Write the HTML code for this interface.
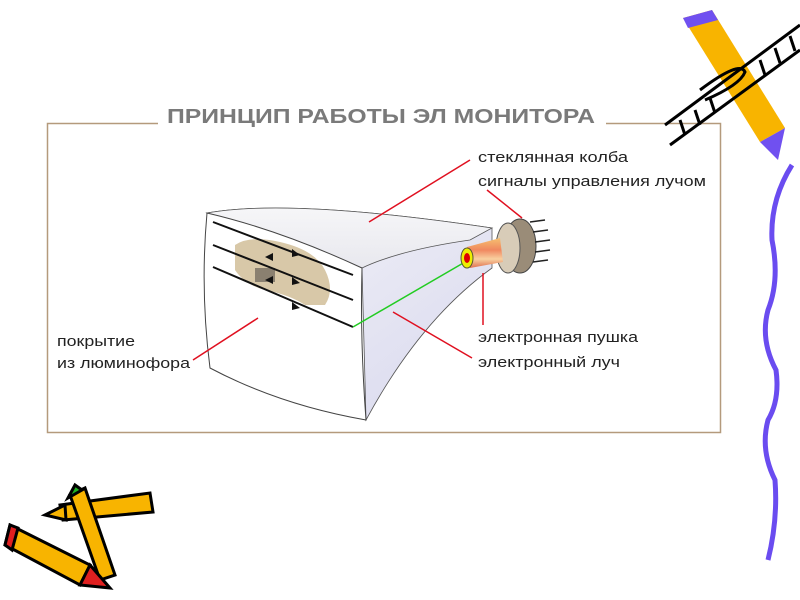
<!DOCTYPE html>
<html><head><meta charset="utf-8"><style>
body{margin:0;width:800px;height:600px;background:#fff;overflow:hidden}
svg{display:block}
text{font-family:"Liberation Sans",sans-serif}
</style></head><body>
<svg width="800" height="600" viewBox="0 0 800 600">
<defs>
<linearGradient id="bd" x1="0" y1="0" x2="1" y2="1"><stop offset="0" stop-color="#f4f4f8"/><stop offset="1" stop-color="#d8d8ee"/></linearGradient>
<linearGradient id="bt" x1="0" y1="0" x2="0" y2="1"><stop offset="0" stop-color="#f6f6f8"/><stop offset="1" stop-color="#e8e8ee"/></linearGradient>
<linearGradient id="gun" x1="0" y1="0" x2="0" y2="1"><stop offset="0" stop-color="#f6c070"/><stop offset=".4" stop-color="#f08860"/><stop offset=".7" stop-color="#f8d0a0"/><stop offset="1" stop-color="#e07050"/></linearGradient>
</defs>
<rect x="47.5" y="123.5" width="673" height="309" fill="none" stroke="#b49a7c" stroke-width="1.5"/>
<rect x="158" y="104" width="448" height="26" fill="#fff"/>
<text x="167" y="123" font-size="20" font-weight="bold" fill="#7a7a7a" textLength="428" lengthAdjust="spacingAndGlyphs">ПРИНЦИП РАБОТЫ ЭЛ МОНИТОРА</text>
<path d="M207,213 Q290,198 492,228 L492,268 Q420,320 366,420 L362,268 Z" fill="url(#bd)" stroke="#555" stroke-width="0.8"/>
<path d="M207,213 Q290,198 492,228 L470,240 Q400,250 362,268 Z" fill="url(#bt)" stroke="#555" stroke-width="0.8"/>
<path d="M207,213 Q280,230 362,268 Q360,340 366,420 Q280,405 210,368 Q200,290 207,213 Z" fill="#fff" stroke="#444" stroke-width="1"/>
<path d="M235,245 Q250,235 280,242 Q315,250 325,270 Q335,290 325,305 L305,305 Q290,295 265,290 Q245,285 235,270 Z" fill="#d8c8a8"/>
<rect x="255" y="268" width="20" height="14" fill="#8a8070"/>
<g stroke="#111" stroke-width="2">
<line x1="213" y1="222" x2="353" y2="275"/>
<line x1="213" y1="245" x2="353" y2="300"/>
<line x1="213" y1="267" x2="353" y2="327"/>
</g>
<g fill="#111"><path d="M300,255 l-8,-6 l0,8z"/><path d="M300,283 l-8,-6 l0,8z"/><path d="M300,308 l-8,-6 l0,8z"/><path d="M265,257 l8,-4 l0,8z"/><path d="M265,280 l8,-4 l0,8z"/></g>
<line x1="353" y1="327" x2="465" y2="262" stroke="#2c2" stroke-width="1.5"/>
<ellipse cx="520" cy="246" rx="16" ry="27" fill="#9a8c78" stroke="#444"/>
<ellipse cx="508" cy="248" rx="12" ry="25" fill="#d8ccb8" stroke="#555"/>
<g stroke="#222" stroke-width="1.5"><line x1="530" y1="222" x2="545" y2="220"/><line x1="533" y1="232" x2="548" y2="230"/><line x1="535" y1="242" x2="550" y2="240"/><line x1="535" y1="252" x2="550" y2="250"/><line x1="533" y1="262" x2="548" y2="260"/></g>
<path d="M467,247 L500,238 L503,262 L470,268 Z" fill="url(#gun)"/>
<ellipse cx="467" cy="258" rx="6" ry="10" fill="#ee0" stroke="#553"/>
<ellipse cx="467" cy="258" rx="3" ry="5" fill="#d00"/>
<g stroke="#e01020" stroke-width="1.5">
<line x1="369" y1="222" x2="470" y2="160"/>
<line x1="487" y1="190" x2="522" y2="218"/>
<line x1="483" y1="273" x2="483" y2="325"/>
<line x1="393" y1="312" x2="472" y2="358"/>
<line x1="258" y1="318" x2="193" y2="360"/>
</g>
<g font-size="15" fill="#222">
<text x="478" y="162" textLength="150" lengthAdjust="spacingAndGlyphs">стеклянная колба</text>
<text x="478" y="186" textLength="228" lengthAdjust="spacingAndGlyphs">сигналы управления лучом</text>
<text x="478" y="342" textLength="160" lengthAdjust="spacingAndGlyphs">электронная пушка</text>
<text x="478" y="367" textLength="142" lengthAdjust="spacingAndGlyphs">электронный луч</text>
<text x="57" y="346" textLength="78" lengthAdjust="spacingAndGlyphs">покрытие</text>
<text x="57" y="368" textLength="133" lengthAdjust="spacingAndGlyphs">из люминофора</text>
</g>
<path d="M683,18 L712,10 L785,128 L760,142 Z" fill="#f8b400"/>
<path d="M683,18 L712,10 L718,20 L688,28 Z" fill="#7050f0"/>
<path d="M760,142 L785,128 L778,160 Z" fill="#7050f0"/>
<g stroke="#000" stroke-width="3" fill="none">
<path d="M665,125 L800,25"/><path d="M670,145 L800,50"/><path d="M700,90 Q740,60 745,72 Q740,85 705,100"/>
<path d="M680,120 l5,15 M695,110 l5,15 M710,98 l5,15 M760,60 l5,15 M775,48 l5,15 M790,36 l5,15"/>
</g>
<path d="M792,165 Q770,200 772,240 Q780,280 768,310 Q760,340 776,370 Q780,400 768,420 Q760,450 775,480 Q778,520 768,560" stroke="#6a4cf0" stroke-width="5" fill="none"/>
<g stroke="#000" stroke-width="3">
<path d="M60,505 L150,493 L153,512 L63,520 Z" fill="#f8b400"/>
<path d="M45,515 L65,505 L66,520 Z" fill="#f8b400"/>
<path d="M70,495 L85,488 L115,575 L100,580 Z" fill="#f8b400"/>
<path d="M68,498 L82,490 L75,485 Z" fill="#20b020"/>
<path d="M10,525 L90,565 L80,585 L5,545 Z" fill="#f8b400"/>
<path d="M10,525 L5,545 L12,550 L18,528 Z" fill="#e02020"/>
<path d="M90,565 L110,588 L80,585 Z" fill="#e02020"/>
</g>
</svg>
</body></html>
